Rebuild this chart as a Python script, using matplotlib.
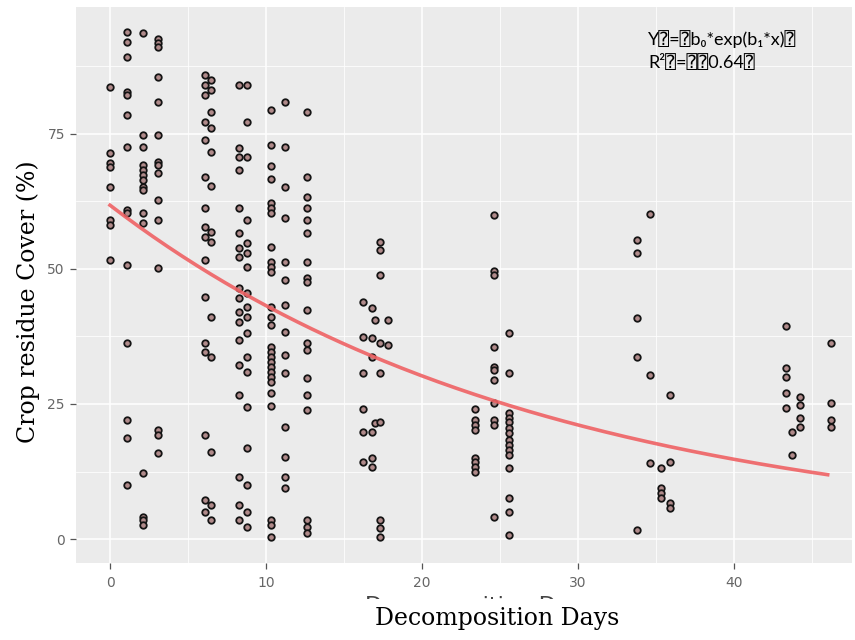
import matplotlib.pyplot as plt
import numpy as np
from matplotlib.patches import Rectangle
from matplotlib.ticker import MultipleLocator

# sampling columns: decomposition day and the crop residue cover values read at that day
day_00, cover_00 = 0.0, [83.7, 71.5, 69.6, 68.9, 65.2, 59.1, 58.1, 51.7]
day_01, cover_01 = 1.1, [93.9, 92.0, 89.3, 82.8, 82.2, 78.5, 72.6, 60.9, 60.4, 50.7, 36.3, 22.0, 18.7, 10.0]
day_02, cover_02 = 2.1, [93.7, 74.8, 72.6, 69.3, 68.3, 67.4, 66.5, 65.2, 64.6, 60.4, 58.5, 12.2, 4.1, 3.5, 2.6]
day_03, cover_03 = 3.1, [92.6, 91.9, 91.1, 85.6, 80.9, 74.8, 69.8, 69.3, 67.8, 62.8, 59.1, 50.2, 20.2, 19.3, 15.9]
day_06a, cover_06a = 6.1, [85.9, 84.1, 82.2, 77.2, 73.9, 67.0, 61.3, 57.8, 55.9, 51.7, 44.8, 36.3, 34.6, 19.3, 7.2, 5.0]
day_06b, cover_06b = 6.5, [85.0, 83.1, 79.1, 76.1, 71.7, 65.4, 56.9, 55.0, 41.1, 33.7, 16.1, 6.3, 3.5]
day_08a, cover_08a = 8.3, [84.1, 72.4, 70.7, 68.3, 61.3, 56.7, 53.9, 52.2, 46.5, 44.6, 42.0, 40.2, 36.9, 32.2,
                           26.7, 11.5, 6.3, 3.5]
day_08b, cover_08b = 8.8, [84.1, 77.2, 70.7, 59.1, 54.8, 53.0, 50.4, 45.6, 43.0, 41.1, 38.1, 33.7, 30.9, 24.4,
                           16.9, 10.0, 5.0, 2.2]
day_10, cover_10 = 10.3, [79.4, 73.0, 69.1, 66.7, 62.2, 61.3, 60.4, 54.1, 51.3, 50.4, 49.4, 43.0, 41.1, 39.6,
                          35.6, 34.6, 33.7, 32.8, 31.9, 30.9, 30.0, 29.1, 27.0, 24.6, 3.5, 2.6, 0.4]
day_11, cover_11 = 11.2, [80.9, 72.6, 65.2, 59.4, 51.3, 48.0, 43.3, 38.3, 34.1, 30.7, 20.7, 15.2, 11.5, 9.4]
day_12, cover_12 = 12.6, [79.1, 67.0, 63.3, 61.3, 59.1, 56.7, 51.3, 48.3, 47.6, 42.4, 36.3, 35.0, 29.8, 26.7,
                          23.9, 3.5, 2.2, 1.1]
day_16a, cover_16a = 16.2, [43.9, 37.4, 30.7, 24.1, 19.8, 14.3]
day_16b, cover_16b = 16.8, [42.8, 37.2, 33.7, 19.8, 15.0, 13.3]
day_17a, cover_17a = 17.0, [40.6, 21.5]
day_17b, cover_17b = 17.3, [55.0, 53.5, 48.9, 36.3, 30.7, 21.7, 3.5, 2.0, 0.4]
day_17c, cover_17c = 17.8, [40.6, 35.9]
day_23, cover_23 = 23.4, [24.1, 22.0, 21.1, 20.2, 15.0, 14.3, 13.3, 12.4]
day_24, cover_24 = 24.6, [60.0, 49.6, 48.9, 35.6, 31.9, 31.3, 29.4, 25.2, 22.0, 21.1, 4.1]
day_25, cover_25 = 25.6, [38.1, 30.7, 23.3, 22.4, 21.7, 20.6, 19.6, 18.3, 17.4, 16.5, 15.6, 13.1, 7.6, 5.0, 0.7]
day_33, cover_33 = 33.8, [55.4, 53.0, 40.9, 33.7, 1.7]
day_34, cover_34 = 34.6, [60.2, 30.4, 14.1]
day_35a, cover_35a = 35.3, [13.1, 9.4, 8.5, 7.6]
day_35b, cover_35b = 35.9, [26.7, 14.3, 6.7, 5.7]
day_43a, cover_43a = 43.3, [39.4, 31.7, 30.0, 27.0, 24.3]
day_43b, cover_43b = 43.7, [19.8, 15.6]
day_44, cover_44 = 44.2, [26.3, 24.8, 22.4, 20.7]
day_46, cover_46 = 46.2, [36.3, 25.2, 22.0, 20.7]

# fitted model Y = b0 * exp(b1 * x)
b0 = 61.8
b1 = -0.0358
fit_range = (0.0, 46.0)

x_ticks = [0, 10, 20, 30, 40]
y_ticks = [0, 25, 50, 75]

columns = [
    (day_00, cover_00), (day_01, cover_01), (day_02, cover_02), (day_03, cover_03),
    (day_06a, cover_06a), (day_06b, cover_06b), (day_08a, cover_08a), (day_08b, cover_08b),
    (day_10, cover_10), (day_11, cover_11), (day_12, cover_12),
    (day_16a, cover_16a), (day_16b, cover_16b), (day_17a, cover_17a), (day_17b, cover_17b), (day_17c, cover_17c),
    (day_23, cover_23), (day_24, cover_24), (day_25, cover_25),
    (day_33, cover_33), (day_34, cover_34), (day_35a, cover_35a), (day_35b, cover_35b),
    (day_43a, cover_43a), (day_43b, cover_43b), (day_44, cover_44), (day_46, cover_46),
]
x = np.concatenate([np.full(len(c), d) for d, c in columns])
y = np.concatenate([np.asarray(c, dtype=float) for _, c in columns])

fig = plt.figure(figsize=(8.55, 6.4), dpi=100)
ax = fig.add_axes([76 / 855, 1 - 563 / 640, 776 / 855, 556 / 640])
ax.set_facecolor('#EBEBEB')
for s in ax.spines.values():
    s.set_visible(False)

ax.set_xlim(-2.18, 47.56)
ax.set_ylim(-4.44, 98.5)
ax.set_xticks(x_ticks)
ax.set_yticks(y_ticks)
ax.xaxis.set_minor_locator(MultipleLocator(5))
ax.yaxis.set_minor_locator(MultipleLocator(12.5))
ax.grid(which='major', color='white', linewidth=1.1)
ax.grid(which='minor', color='white', linewidth=0.55)
ax.set_axisbelow(True)
ax.tick_params(which='major', length=4, width=0.9, color='#555555', labelcolor='#666666', labelsize=10, pad=4)
ax.tick_params(axis='x', pad=5.5)
ax.tick_params(which='minor', length=0)

ax.scatter(x, y, s=22, facecolor='#b08a8a', edgecolor='#141414', linewidth=1.3, zorder=3)

xf = np.linspace(*fit_range, 200)
ax.plot(xf, b0 * np.exp(b1 * xf), color='#ef6264', linewidth=2.6, alpha=0.9, zorder=4)

# original axis title, mostly hidden by the white overlay
fig.text(480 / 855, 1 - 606 / 640, 'Decomposition Days', ha='center', va='center', fontsize=16, color='#444444')
fig.patches.append(Rectangle((0, 0), 1, 1 - 599 / 640, transform=fig.transFigure, facecolor='white',
                             edgecolor='none', zorder=5))

fig.text(497 / 855, 1 - 619 / 640, 'Decomposition Days', ha='center', va='center', fontsize=17,
         family='DejaVu Serif', zorder=6)
fig.text(28 / 855, 1 - 302 / 640, 'Crop residue Cover (%)', ha='center', va='center', rotation=90, fontsize=17,
         family='DejaVu Serif', zorder=6)

fam = ['Lato', 'DejaVu Sans', 'DejaVu Sans Mono']
fig.text(648 / 855, 1 - 39 / 640, 'Y⍰=⍰b₀*exp(b₁*x)⍰', ha='left', va='center', fontsize=13, family=fam)
fig.text(648 / 855, 1 - 63 / 640, 'R²⍰=⍰⍰0.64⍰', ha='left', va='center', fontsize=13, family=fam)

fig.savefig('out.png', dpi=100)
